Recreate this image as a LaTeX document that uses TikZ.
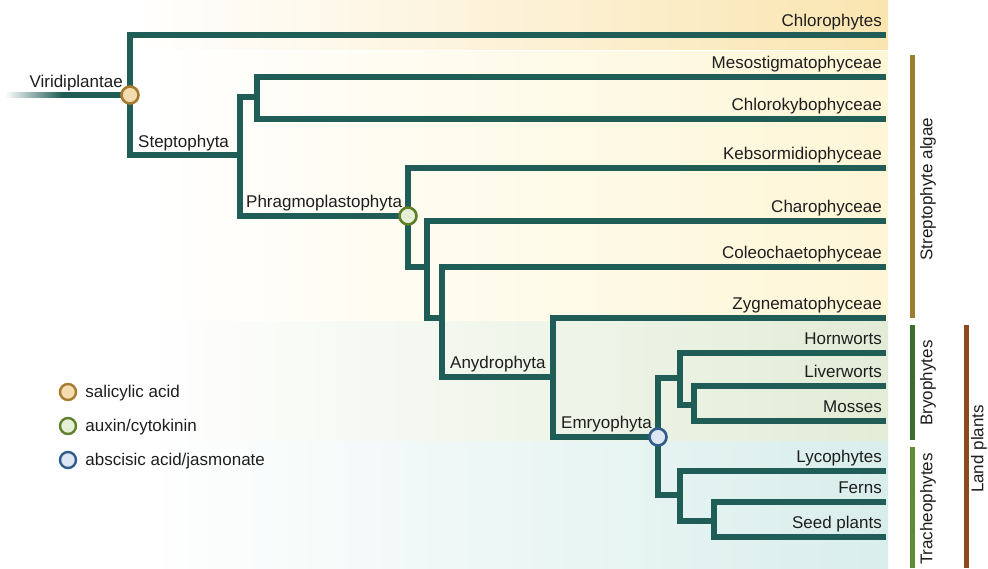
\documentclass[tikz,border=0pt]{standalone}
\usepackage{fontspec}
\setmainfont{Liberation Sans}
\usetikzlibrary{positioning}
\definecolor{verdeRama}{HTML}{1F5D56}
\definecolor{doradoSA}{HTML}{A77A30}
\definecolor{doradoSAf}{HTML}{F2DCB0}
\definecolor{verdeAux}{HTML}{5F7F2B}
\definecolor{verdeAuxf}{HTML}{E6F0D6}
\definecolor{azulABA}{HTML}{2F5C8A}
\definecolor{azulABAf}{HTML}{DCE7F2}
\definecolor{fondoChl}{HTML}{FAE5B0}
\definecolor{fondoAlga}{HTML}{FEF6D6}
\definecolor{fondoBrio}{HTML}{E2ECD7}
\definecolor{fondoTraq}{HTML}{D9EEEB}
\definecolor{barraAlga}{HTML}{9B7E33}
\definecolor{barraBrio}{HTML}{3D6F2C}
\definecolor{barraTraq}{HTML}{5E8B35}
\definecolor{barraTierra}{HTML}{8B4A1F}
\definecolor{negroP}{HTML}{1E1E1E}

\begin{document}
\begin{tikzpicture}[x=1pt,y=-1pt,
                    rama/.style={draw=verdeRama,line width=5.5pt,line join=miter},
                    hito/.style={circle,minimum size=17pt,inner sep=0pt,line width=2.6pt},
                    hoja/.style={anchor=base east,inner sep=0pt,text=negroP,
                                 font=\fontsize{17}{19}\selectfont},
                    clado/.style={anchor=base west,inner sep=0pt,text=negroP,
                                  font=\fontsize{17}{19}\selectfont},
                    grupo/.style={rotate=90,inner sep=0pt,text=negroP,
                                  font=\fontsize{17}{19}\selectfont},
                    barra/.style={line width=5pt}]
  \useasboundingbox (0,0) rectangle (988,568);
  % fondos
  \shade[left color=white,right color=fondoChl] (130,0) rectangle (888,49);
  \shade[left color=white,right color=fondoAlga] (140,51) rectangle (888,321);
  \shade[left color=white,right color=fondoBrio] (140,321) rectangle (888,441);
  \shade[left color=white,right color=fondoTraq] (140,441) rectangle (888,568);
  % puntos de ramificacion
  \coordinate (Vir) at (130,95);
  \coordinate (Stp) at (240,155);
  \coordinate (Mc) at (257,97);
  \coordinate (Phr) at (408,216);
  \coordinate (Ca) at (427,267);
  \coordinate (Cb) at (442,318);
  \coordinate (Any) at (553,377);
  \coordinate (Emb) at (658,437);
  \coordinate (Bri) at (680,378);
  \coordinate (Lm) at (694,405);
  \coordinate (Tra) at (680,495);
  \coordinate (Sp) at (714,521);
  % puntas
  \coordinate (Chl) at (886,35);
  \coordinate (Mes) at (886,77);
  \coordinate (Ckb) at (886,119);
  \coordinate (Keb) at (886,168);
  \coordinate (Cha) at (886,221);
  \coordinate (Col) at (886,267);
  \coordinate (Zyg) at (886,318);
  \coordinate (Hor) at (886,353);
  \coordinate (Liv) at (886,386);
  \coordinate (Mos) at (886,421);
  \coordinate (Lyc) at (886,471);
  \coordinate (Fer) at (886,502);
  \coordinate (Sem) at (886,537);
  \coordinate (raiz) at (62,95);
  % arbol
  \shade[left color=white,right color=verdeRama] (5,92.25) rectangle (62,97.75);
  \draw[rama] (raiz) -- (Vir);
  \draw[rama] (Chl) -| (Vir) |- (Stp);
  \draw[rama] (Mc) -| (Stp) |- (Phr);
  \draw[rama] (Mes) -| (Mc) |- (Ckb);
  \draw[rama] (Keb) -| (Phr) |- (Ca);
  \draw[rama] (Cha) -| (Ca) |- (Cb);
  \draw[rama] (Col) -| (Cb) |- (Any);
  \draw[rama] (Zyg) -| (Any) |- (Emb);
  \draw[rama] (Bri) -| (Emb) |- (Tra);
  \draw[rama] (Hor) -| (Bri) |- (Lm);
  \draw[rama] (Liv) -| (Lm) |- (Mos);
  \draw[rama] (Lyc) -| (Tra) |- (Sp);
  \draw[rama] (Fer) -| (Sp) |- (Sem);
  \node[hito,fill=doradoSAf,draw=doradoSA] (virN) at (Vir) {};
  \node[hito,fill=verdeAuxf,draw=verdeAux] (phrN) at (Phr) {};
  \node[hito,fill=azulABAf,draw=azulABA] (embN) at (Emb) {};
  % clados
  \node[hoja] (tVir) at (123,87) {Viridiplantae};
  \node[clado] (tStp) at (138,147) {Steptophyta};
  \node[clado] (tPhr) at (246,207) {Phragmoplastophyta};
  \node[clado] (tAny) at (450,368) {Anydrophyta};
  \node[clado] (tEmb) at (561,428) {Emryophyta};
  % hojas
  \node[hoja] (tChl) at (882,26) {Chlorophytes};
  \node[hoja] (tMes) at (882,68) {Mesostigmatophyceae};
  \node[hoja] (tCkb) at (882,110) {Chlorokybophyceae};
  \node[hoja] (tKeb) at (882,159) {Kebsormidiophyceae};
  \node[hoja] (tCha) at (882,212) {Charophyceae};
  \node[hoja] (tCol) at (882,258) {Coleochaetophyceae};
  \node[hoja] (tZyg) at (882,309) {Zygnematophyceae};
  \node[hoja] (tHor) at (882,344) {Hornworts};
  \node[hoja] (tLiv) at (882,377) {Liverworts};
  \node[hoja] (tMos) at (882,412) {Mosses};
  \node[hoja] (tLyc) at (882,462) {Lycophytes};
  \node[hoja] (tFer) at (882,493) {Ferns};
  \node[hoja] (tSem) at (882,528) {Seed plants};
  % grupos
  \draw[barra,barraAlga] (912,55) -- (912,318);
  \draw[barra,barraBrio] (912,325) -- (912,440);
  \draw[barra,barraTraq] (912,447) -- (912,568);
  \draw[barra,barraTierra] (966,325) -- (966,568);
  \node[grupo] (gAlga) at (928,189) {Streptophyte algae};
  \node[grupo] (gBrio) at (928,383) {Bryophytes};
  \node[grupo] (gTraq) at (928,509) {Tracheophytes};
  \node[grupo] (gTierra) at (979,449) {Land plants};
  % leyenda
  \node[hito,minimum size=16pt,line width=2.4pt,fill=doradoSAf,draw=doradoSA] (leySA) at (68,392) {};
  \node[hito,minimum size=16pt,line width=2.4pt,fill=verdeAuxf,draw=verdeAux] (leyAux) at (68,426) {};
  \node[hito,minimum size=16pt,line width=2.4pt,fill=azulABAf,draw=azulABA] (leyABA) at (68,460) {};
  \node[clado,anchor=west,right=8pt of leySA,yshift=-1pt] (tSA) {salicylic acid};
  \node[clado,anchor=west,right=8pt of leyAux,yshift=-1pt] (tAux) {auxin/cytokinin};
  \node[clado,anchor=west,right=8pt of leyABA,yshift=-1pt] (tABA) {abscisic acid/jasmonate};
\end{tikzpicture}
\end{document}
